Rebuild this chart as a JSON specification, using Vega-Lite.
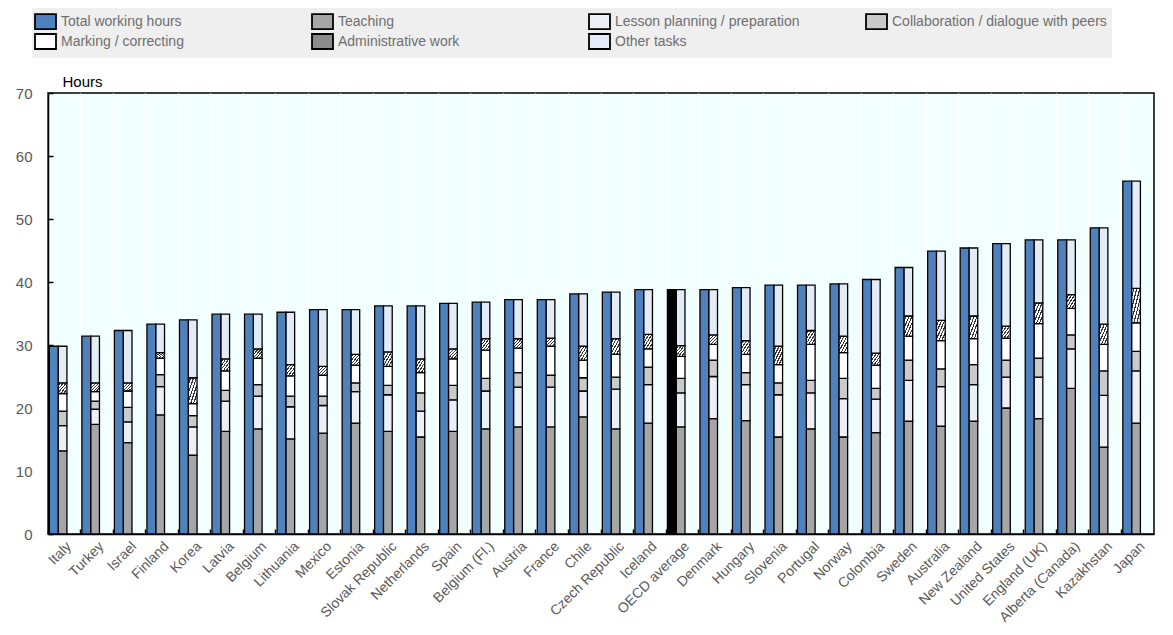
{
  "$schema": "https://vega.github.io/schema/vega-lite/v6.json",
  "autosize": "none",
  "width": 1106,
  "height": 441,
  "padding": {"left": 48, "top": 93, "right": 19, "bottom": 101},
  "background": "white",
  "config": {
    "font": "Liberation Sans",
    "view": {"fill": "#F2FFFF", "stroke": "black", "strokeWidth": 1.5},
    "legend": {
      "orient": "none", "legendX": -16, "legendY": -85, "columns": 4, "direction": "horizontal", "gridAlign": "all",
      "columnPadding": 32, "rowPadding": -3, "fillColor": "#EFEFEF", "padding": 5,
      "symbolType": "M-1.4,-1H1.4V1H-1.4Z", "symbolSize": 225,
      "symbolStrokeColor": "black", "symbolStrokeWidth": 1.8,
      "labelFontSize": 14, "labelColor": "#6E6E6E", "labelFont": "Liberation Sans",
      "labelOffset": 7, "labelLimit": 400
    }
  },
  "data": {"values": [
    {"country":"Italy","series":"Total","task":"Total working hours","hours":29.8},
    {"country":"Turkey","series":"Total","task":"Total working hours","hours":31.4},
    {"country":"Israel","series":"Total","task":"Total working hours","hours":32.3},
    {"country":"Finland","series":"Total","task":"Total working hours","hours":33.3},
    {"country":"Korea","series":"Total","task":"Total working hours","hours":34.0},
    {"country":"Latvia","series":"Total","task":"Total working hours","hours":34.9},
    {"country":"Belgium","series":"Total","task":"Total working hours","hours":34.9},
    {"country":"Lithuania","series":"Total","task":"Total working hours","hours":35.2},
    {"country":"Mexico","series":"Total","task":"Total working hours","hours":35.6},
    {"country":"Estonia","series":"Total","task":"Total working hours","hours":35.6},
    {"country":"Slovak Republic","series":"Total","task":"Total working hours","hours":36.2},
    {"country":"Netherlands","series":"Total","task":"Total working hours","hours":36.2},
    {"country":"Spain","series":"Total","task":"Total working hours","hours":36.6},
    {"country":"Belgium (Fl.)","series":"Total","task":"Total working hours","hours":36.8},
    {"country":"Austria","series":"Total","task":"Total working hours","hours":37.2},
    {"country":"France","series":"Total","task":"Total working hours","hours":37.2},
    {"country":"Chile","series":"Total","task":"Total working hours","hours":38.1},
    {"country":"Czech Republic","series":"Total","task":"Total working hours","hours":38.4},
    {"country":"Iceland","series":"Total","task":"Total working hours","hours":38.8},
    {"country":"OECD average","series":"Total","task":"Total working hours","hours":38.8},
    {"country":"Denmark","series":"Total","task":"Total working hours","hours":38.8},
    {"country":"Hungary","series":"Total","task":"Total working hours","hours":39.1},
    {"country":"Slovenia","series":"Total","task":"Total working hours","hours":39.5},
    {"country":"Portugal","series":"Total","task":"Total working hours","hours":39.5},
    {"country":"Norway","series":"Total","task":"Total working hours","hours":39.7},
    {"country":"Colombia","series":"Total","task":"Total working hours","hours":40.4},
    {"country":"Sweden","series":"Total","task":"Total working hours","hours":42.3},
    {"country":"Australia","series":"Total","task":"Total working hours","hours":44.9},
    {"country":"New Zealand","series":"Total","task":"Total working hours","hours":45.4},
    {"country":"United States","series":"Total","task":"Total working hours","hours":46.1},
    {"country":"England (UK)","series":"Total","task":"Total working hours","hours":46.7},
    {"country":"Alberta (Canada)","series":"Total","task":"Total working hours","hours":46.7},
    {"country":"Kazakhstan","series":"Total","task":"Total working hours","hours":48.6},
    {"country":"Japan","series":"Total","task":"Total working hours","hours":56.0},

    {"country":"Italy","series":"Breakdown","task":"Teaching","hours":13.2},
    {"country":"Italy","series":"Breakdown","task":"Lesson planning / preparation","hours":4.0},
    {"country":"Italy","series":"Breakdown","task":"Collaboration / dialogue with peers","hours":2.3},
    {"country":"Italy","series":"Breakdown","task":"Marking / correcting","hours":2.8},
    {"country":"Italy","series":"Breakdown","task":"Administrative work","hours":1.7},
    {"country":"Italy","series":"Breakdown","task":"Other tasks","hours":5.8},
    {"country":"Turkey","series":"Breakdown","task":"Teaching","hours":17.4},
    {"country":"Turkey","series":"Breakdown","task":"Lesson planning / preparation","hours":2.4},
    {"country":"Turkey","series":"Breakdown","task":"Collaboration / dialogue with peers","hours":1.3},
    {"country":"Turkey","series":"Breakdown","task":"Marking / correcting","hours":1.5},
    {"country":"Turkey","series":"Breakdown","task":"Administrative work","hours":1.4},
    {"country":"Turkey","series":"Breakdown","task":"Other tasks","hours":7.4},
    {"country":"Israel","series":"Breakdown","task":"Teaching","hours":14.5},
    {"country":"Israel","series":"Breakdown","task":"Lesson planning / preparation","hours":3.3},
    {"country":"Israel","series":"Breakdown","task":"Collaboration / dialogue with peers","hours":2.3},
    {"country":"Israel","series":"Breakdown","task":"Marking / correcting","hours":2.6},
    {"country":"Israel","series":"Breakdown","task":"Administrative work","hours":1.3},
    {"country":"Israel","series":"Breakdown","task":"Other tasks","hours":8.3},
    {"country":"Finland","series":"Breakdown","task":"Teaching","hours":18.9},
    {"country":"Finland","series":"Breakdown","task":"Lesson planning / preparation","hours":4.5},
    {"country":"Finland","series":"Breakdown","task":"Collaboration / dialogue with peers","hours":1.9},
    {"country":"Finland","series":"Breakdown","task":"Marking / correcting","hours":2.6},
    {"country":"Finland","series":"Breakdown","task":"Administrative work","hours":0.9},
    {"country":"Finland","series":"Breakdown","task":"Other tasks","hours":4.5},
    {"country":"Korea","series":"Breakdown","task":"Teaching","hours":12.5},
    {"country":"Korea","series":"Breakdown","task":"Lesson planning / preparation","hours":4.5},
    {"country":"Korea","series":"Breakdown","task":"Collaboration / dialogue with peers","hours":1.8},
    {"country":"Korea","series":"Breakdown","task":"Marking / correcting","hours":1.9},
    {"country":"Korea","series":"Breakdown","task":"Administrative work","hours":4.1},
    {"country":"Korea","series":"Breakdown","task":"Other tasks","hours":9.2},
    {"country":"Latvia","series":"Breakdown","task":"Teaching","hours":16.3},
    {"country":"Latvia","series":"Breakdown","task":"Lesson planning / preparation","hours":4.8},
    {"country":"Latvia","series":"Breakdown","task":"Collaboration / dialogue with peers","hours":1.7},
    {"country":"Latvia","series":"Breakdown","task":"Marking / correcting","hours":3.1},
    {"country":"Latvia","series":"Breakdown","task":"Administrative work","hours":1.9},
    {"country":"Latvia","series":"Breakdown","task":"Other tasks","hours":7.1},
    {"country":"Belgium","series":"Breakdown","task":"Teaching","hours":16.7},
    {"country":"Belgium","series":"Breakdown","task":"Lesson planning / preparation","hours":5.2},
    {"country":"Belgium","series":"Breakdown","task":"Collaboration / dialogue with peers","hours":1.8},
    {"country":"Belgium","series":"Breakdown","task":"Marking / correcting","hours":4.2},
    {"country":"Belgium","series":"Breakdown","task":"Administrative work","hours":1.5},
    {"country":"Belgium","series":"Breakdown","task":"Other tasks","hours":5.5},
    {"country":"Lithuania","series":"Breakdown","task":"Teaching","hours":15.1},
    {"country":"Lithuania","series":"Breakdown","task":"Lesson planning / preparation","hours":5.1},
    {"country":"Lithuania","series":"Breakdown","task":"Collaboration / dialogue with peers","hours":1.7},
    {"country":"Lithuania","series":"Breakdown","task":"Marking / correcting","hours":3.2},
    {"country":"Lithuania","series":"Breakdown","task":"Administrative work","hours":1.8},
    {"country":"Lithuania","series":"Breakdown","task":"Other tasks","hours":8.3},
    {"country":"Mexico","series":"Breakdown","task":"Teaching","hours":16.0},
    {"country":"Mexico","series":"Breakdown","task":"Lesson planning / preparation","hours":4.4},
    {"country":"Mexico","series":"Breakdown","task":"Collaboration / dialogue with peers","hours":1.5},
    {"country":"Mexico","series":"Breakdown","task":"Marking / correcting","hours":3.3},
    {"country":"Mexico","series":"Breakdown","task":"Administrative work","hours":1.4},
    {"country":"Mexico","series":"Breakdown","task":"Other tasks","hours":9.0},
    {"country":"Estonia","series":"Breakdown","task":"Teaching","hours":17.6},
    {"country":"Estonia","series":"Breakdown","task":"Lesson planning / preparation","hours":5.0},
    {"country":"Estonia","series":"Breakdown","task":"Collaboration / dialogue with peers","hours":1.4},
    {"country":"Estonia","series":"Breakdown","task":"Marking / correcting","hours":2.8},
    {"country":"Estonia","series":"Breakdown","task":"Administrative work","hours":1.7},
    {"country":"Estonia","series":"Breakdown","task":"Other tasks","hours":7.1},
    {"country":"Slovak Republic","series":"Breakdown","task":"Teaching","hours":16.3},
    {"country":"Slovak Republic","series":"Breakdown","task":"Lesson planning / preparation","hours":5.8},
    {"country":"Slovak Republic","series":"Breakdown","task":"Collaboration / dialogue with peers","hours":1.5},
    {"country":"Slovak Republic","series":"Breakdown","task":"Marking / correcting","hours":3.0},
    {"country":"Slovak Republic","series":"Breakdown","task":"Administrative work","hours":2.3},
    {"country":"Slovak Republic","series":"Breakdown","task":"Other tasks","hours":7.3},
    {"country":"Netherlands","series":"Breakdown","task":"Teaching","hours":15.4},
    {"country":"Netherlands","series":"Breakdown","task":"Lesson planning / preparation","hours":4.1},
    {"country":"Netherlands","series":"Breakdown","task":"Collaboration / dialogue with peers","hours":2.9},
    {"country":"Netherlands","series":"Breakdown","task":"Marking / correcting","hours":3.2},
    {"country":"Netherlands","series":"Breakdown","task":"Administrative work","hours":2.2},
    {"country":"Netherlands","series":"Breakdown","task":"Other tasks","hours":8.4},
    {"country":"Spain","series":"Breakdown","task":"Teaching","hours":16.3},
    {"country":"Spain","series":"Breakdown","task":"Lesson planning / preparation","hours":5.0},
    {"country":"Spain","series":"Breakdown","task":"Collaboration / dialogue with peers","hours":2.3},
    {"country":"Spain","series":"Breakdown","task":"Marking / correcting","hours":4.2},
    {"country":"Spain","series":"Breakdown","task":"Administrative work","hours":1.6},
    {"country":"Spain","series":"Breakdown","task":"Other tasks","hours":7.2},
    {"country":"Belgium (Fl.)","series":"Breakdown","task":"Teaching","hours":16.7},
    {"country":"Belgium (Fl.)","series":"Breakdown","task":"Lesson planning / preparation","hours":6.0},
    {"country":"Belgium (Fl.)","series":"Breakdown","task":"Collaboration / dialogue with peers","hours":2.0},
    {"country":"Belgium (Fl.)","series":"Breakdown","task":"Marking / correcting","hours":4.5},
    {"country":"Belgium (Fl.)","series":"Breakdown","task":"Administrative work","hours":1.8},
    {"country":"Belgium (Fl.)","series":"Breakdown","task":"Other tasks","hours":5.8},
    {"country":"Austria","series":"Breakdown","task":"Teaching","hours":17.0},
    {"country":"Austria","series":"Breakdown","task":"Lesson planning / preparation","hours":6.3},
    {"country":"Austria","series":"Breakdown","task":"Collaboration / dialogue with peers","hours":2.3},
    {"country":"Austria","series":"Breakdown","task":"Marking / correcting","hours":3.9},
    {"country":"Austria","series":"Breakdown","task":"Administrative work","hours":1.5},
    {"country":"Austria","series":"Breakdown","task":"Other tasks","hours":6.2},
    {"country":"France","series":"Breakdown","task":"Teaching","hours":17.0},
    {"country":"France","series":"Breakdown","task":"Lesson planning / preparation","hours":6.3},
    {"country":"France","series":"Breakdown","task":"Collaboration / dialogue with peers","hours":1.9},
    {"country":"France","series":"Breakdown","task":"Marking / correcting","hours":4.6},
    {"country":"France","series":"Breakdown","task":"Administrative work","hours":1.3},
    {"country":"France","series":"Breakdown","task":"Other tasks","hours":6.1},
    {"country":"Chile","series":"Breakdown","task":"Teaching","hours":18.6},
    {"country":"Chile","series":"Breakdown","task":"Lesson planning / preparation","hours":4.1},
    {"country":"Chile","series":"Breakdown","task":"Collaboration / dialogue with peers","hours":2.1},
    {"country":"Chile","series":"Breakdown","task":"Marking / correcting","hours":2.8},
    {"country":"Chile","series":"Breakdown","task":"Administrative work","hours":2.2},
    {"country":"Chile","series":"Breakdown","task":"Other tasks","hours":8.3},
    {"country":"Czech Republic","series":"Breakdown","task":"Teaching","hours":16.7},
    {"country":"Czech Republic","series":"Breakdown","task":"Lesson planning / preparation","hours":6.3},
    {"country":"Czech Republic","series":"Breakdown","task":"Collaboration / dialogue with peers","hours":1.9},
    {"country":"Czech Republic","series":"Breakdown","task":"Marking / correcting","hours":3.6},
    {"country":"Czech Republic","series":"Breakdown","task":"Administrative work","hours":2.5},
    {"country":"Czech Republic","series":"Breakdown","task":"Other tasks","hours":7.4},
    {"country":"Iceland","series":"Breakdown","task":"Teaching","hours":17.6},
    {"country":"Iceland","series":"Breakdown","task":"Lesson planning / preparation","hours":6.1},
    {"country":"Iceland","series":"Breakdown","task":"Collaboration / dialogue with peers","hours":2.8},
    {"country":"Iceland","series":"Breakdown","task":"Marking / correcting","hours":2.9},
    {"country":"Iceland","series":"Breakdown","task":"Administrative work","hours":2.3},
    {"country":"Iceland","series":"Breakdown","task":"Other tasks","hours":7.1},
    {"country":"OECD average","series":"Breakdown","task":"Teaching","hours":17.0},
    {"country":"OECD average","series":"Breakdown","task":"Lesson planning / preparation","hours":5.4},
    {"country":"OECD average","series":"Breakdown","task":"Collaboration / dialogue with peers","hours":2.3},
    {"country":"OECD average","series":"Breakdown","task":"Marking / correcting","hours":3.5},
    {"country":"OECD average","series":"Breakdown","task":"Administrative work","hours":1.7},
    {"country":"OECD average","series":"Breakdown","task":"Other tasks","hours":8.9},
    {"country":"Denmark","series":"Breakdown","task":"Teaching","hours":18.3},
    {"country":"Denmark","series":"Breakdown","task":"Lesson planning / preparation","hours":6.7},
    {"country":"Denmark","series":"Breakdown","task":"Collaboration / dialogue with peers","hours":2.6},
    {"country":"Denmark","series":"Breakdown","task":"Marking / correcting","hours":2.5},
    {"country":"Denmark","series":"Breakdown","task":"Administrative work","hours":1.5},
    {"country":"Denmark","series":"Breakdown","task":"Other tasks","hours":7.2},
    {"country":"Hungary","series":"Breakdown","task":"Teaching","hours":18.0},
    {"country":"Hungary","series":"Breakdown","task":"Lesson planning / preparation","hours":5.7},
    {"country":"Hungary","series":"Breakdown","task":"Collaboration / dialogue with peers","hours":1.9},
    {"country":"Hungary","series":"Breakdown","task":"Marking / correcting","hours":2.9},
    {"country":"Hungary","series":"Breakdown","task":"Administrative work","hours":2.2},
    {"country":"Hungary","series":"Breakdown","task":"Other tasks","hours":8.4},
    {"country":"Slovenia","series":"Breakdown","task":"Teaching","hours":15.4},
    {"country":"Slovenia","series":"Breakdown","task":"Lesson planning / preparation","hours":6.7},
    {"country":"Slovenia","series":"Breakdown","task":"Collaboration / dialogue with peers","hours":1.9},
    {"country":"Slovenia","series":"Breakdown","task":"Marking / correcting","hours":2.9},
    {"country":"Slovenia","series":"Breakdown","task":"Administrative work","hours":2.9},
    {"country":"Slovenia","series":"Breakdown","task":"Other tasks","hours":9.7},
    {"country":"Portugal","series":"Breakdown","task":"Teaching","hours":16.7},
    {"country":"Portugal","series":"Breakdown","task":"Lesson planning / preparation","hours":5.7},
    {"country":"Portugal","series":"Breakdown","task":"Collaboration / dialogue with peers","hours":2.0},
    {"country":"Portugal","series":"Breakdown","task":"Marking / correcting","hours":5.7},
    {"country":"Portugal","series":"Breakdown","task":"Administrative work","hours":2.2},
    {"country":"Portugal","series":"Breakdown","task":"Other tasks","hours":7.2},
    {"country":"Norway","series":"Breakdown","task":"Teaching","hours":15.4},
    {"country":"Norway","series":"Breakdown","task":"Lesson planning / preparation","hours":6.1},
    {"country":"Norway","series":"Breakdown","task":"Collaboration / dialogue with peers","hours":3.2},
    {"country":"Norway","series":"Breakdown","task":"Marking / correcting","hours":4.1},
    {"country":"Norway","series":"Breakdown","task":"Administrative work","hours":2.6},
    {"country":"Norway","series":"Breakdown","task":"Other tasks","hours":8.3},
    {"country":"Colombia","series":"Breakdown","task":"Teaching","hours":16.1},
    {"country":"Colombia","series":"Breakdown","task":"Lesson planning / preparation","hours":5.3},
    {"country":"Colombia","series":"Breakdown","task":"Collaboration / dialogue with peers","hours":1.7},
    {"country":"Colombia","series":"Breakdown","task":"Marking / correcting","hours":3.7},
    {"country":"Colombia","series":"Breakdown","task":"Administrative work","hours":1.9},
    {"country":"Colombia","series":"Breakdown","task":"Other tasks","hours":11.7},
    {"country":"Sweden","series":"Breakdown","task":"Teaching","hours":17.9},
    {"country":"Sweden","series":"Breakdown","task":"Lesson planning / preparation","hours":6.5},
    {"country":"Sweden","series":"Breakdown","task":"Collaboration / dialogue with peers","hours":3.2},
    {"country":"Sweden","series":"Breakdown","task":"Marking / correcting","hours":3.8},
    {"country":"Sweden","series":"Breakdown","task":"Administrative work","hours":3.2},
    {"country":"Sweden","series":"Breakdown","task":"Other tasks","hours":7.7},
    {"country":"Australia","series":"Breakdown","task":"Teaching","hours":17.1},
    {"country":"Australia","series":"Breakdown","task":"Lesson planning / preparation","hours":6.3},
    {"country":"Australia","series":"Breakdown","task":"Collaboration / dialogue with peers","hours":2.8},
    {"country":"Australia","series":"Breakdown","task":"Marking / correcting","hours":4.5},
    {"country":"Australia","series":"Breakdown","task":"Administrative work","hours":3.2},
    {"country":"Australia","series":"Breakdown","task":"Other tasks","hours":11.0},
    {"country":"New Zealand","series":"Breakdown","task":"Teaching","hours":17.9},
    {"country":"New Zealand","series":"Breakdown","task":"Lesson planning / preparation","hours":5.8},
    {"country":"New Zealand","series":"Breakdown","task":"Collaboration / dialogue with peers","hours":3.2},
    {"country":"New Zealand","series":"Breakdown","task":"Marking / correcting","hours":4.1},
    {"country":"New Zealand","series":"Breakdown","task":"Administrative work","hours":3.6},
    {"country":"New Zealand","series":"Breakdown","task":"Other tasks","hours":10.8},
    {"country":"United States","series":"Breakdown","task":"Teaching","hours":20.0},
    {"country":"United States","series":"Breakdown","task":"Lesson planning / preparation","hours":4.9},
    {"country":"United States","series":"Breakdown","task":"Collaboration / dialogue with peers","hours":2.7},
    {"country":"United States","series":"Breakdown","task":"Marking / correcting","hours":3.5},
    {"country":"United States","series":"Breakdown","task":"Administrative work","hours":1.9},
    {"country":"United States","series":"Breakdown","task":"Other tasks","hours":13.1},
    {"country":"England (UK)","series":"Breakdown","task":"Teaching","hours":18.3},
    {"country":"England (UK)","series":"Breakdown","task":"Lesson planning / preparation","hours":6.6},
    {"country":"England (UK)","series":"Breakdown","task":"Collaboration / dialogue with peers","hours":3.0},
    {"country":"England (UK)","series":"Breakdown","task":"Marking / correcting","hours":5.5},
    {"country":"England (UK)","series":"Breakdown","task":"Administrative work","hours":3.3},
    {"country":"England (UK)","series":"Breakdown","task":"Other tasks","hours":10.0},
    {"country":"Alberta (Canada)","series":"Breakdown","task":"Teaching","hours":23.1},
    {"country":"Alberta (Canada)","series":"Breakdown","task":"Lesson planning / preparation","hours":6.3},
    {"country":"Alberta (Canada)","series":"Breakdown","task":"Collaboration / dialogue with peers","hours":2.2},
    {"country":"Alberta (Canada)","series":"Breakdown","task":"Marking / correcting","hours":4.2},
    {"country":"Alberta (Canada)","series":"Breakdown","task":"Administrative work","hours":2.2},
    {"country":"Alberta (Canada)","series":"Breakdown","task":"Other tasks","hours":8.7},
    {"country":"Kazakhstan","series":"Breakdown","task":"Teaching","hours":13.8},
    {"country":"Kazakhstan","series":"Breakdown","task":"Lesson planning / preparation","hours":8.2},
    {"country":"Kazakhstan","series":"Breakdown","task":"Collaboration / dialogue with peers","hours":3.9},
    {"country":"Kazakhstan","series":"Breakdown","task":"Marking / correcting","hours":4.2},
    {"country":"Kazakhstan","series":"Breakdown","task":"Administrative work","hours":3.2},
    {"country":"Kazakhstan","series":"Breakdown","task":"Other tasks","hours":15.3},
    {"country":"Japan","series":"Breakdown","task":"Teaching","hours":17.6},
    {"country":"Japan","series":"Breakdown","task":"Lesson planning / preparation","hours":8.3},
    {"country":"Japan","series":"Breakdown","task":"Collaboration / dialogue with peers","hours":3.1},
    {"country":"Japan","series":"Breakdown","task":"Marking / correcting","hours":4.5},
    {"country":"Japan","series":"Breakdown","task":"Administrative work","hours":5.5},
    {"country":"Japan","series":"Breakdown","task":"Other tasks","hours":17.0}
  ]},
  "resolve": {"axis": {"x": "independent"}},
  "layer": [
    {
      "transform": [
        {"filter": "datum.series === 'Breakdown'"},
        {"calculate": "indexof(['Teaching','Lesson planning / preparation','Collaboration / dialogue with peers','Marking / correcting','Administrative work','Other tasks'], datum.task)", "as": "stackOrder"}
      ],
      "mark": {"type": "bar", "stroke": "black", "strokeWidth": 1.3},
      "encoding": {
        "x": {"field": "country", "type": "nominal", "sort": null,
              "scale": {"paddingInner": 0, "paddingOuter": 0},
              "axis": {"orient": "bottom", "title": null, "labels": false, "bandPosition": 0, "ticks": true, "tickSize": -5, "tickColor": "black", "tickWidth": 1.5,
                       "grid": true, "gridColor": "#FFFFFF", "gridWidth": 1.5, "domain": false}},
        "xOffset": {"field": "series", "type": "nominal",
                    "scale": {"domain": ["Total", "Breakdown"], "paddingInner": 0, "paddingOuter": 0.85, "align": 0.09}},
        "y": {"field": "hours", "type": "quantitative", "stack": "zero",
              "scale": {"domain": [0, 70], "nice": false},
              "axis": {"title": "Hours", "titleAngle": 0, "titleAlign": "left", "titleBaseline": "alphabetic", "titleX": 14, "titleY": -7,
                       "titleFontSize": 15, "titleFontWeight": "normal", "titleColor": "black",
                       "values": [0, 10, 20, 30, 40, 50, 60, 70], "grid": false, "tickSize": -5, "tickColor": "black", "tickWidth": 1.5,
                       "labelPadding": 21, "labelFontSize": 15, "labelColor": "#595959", "domainColor": "black", "domainWidth": 1.5}},
        "order": {"field": "stackOrder", "type": "quantitative", "sort": "ascending"},
        "color": {"field": "task", "type": "nominal", "title": null,
                  "condition": {"test": "datum.task === 'Administrative work'",
                                "value": {"gradient": "linear", "x1": 0, "y1": 0, "x2": 1, "y2": 1,
                                          "stops": [
                                            {"offset": 0, "color": "#FFFFFF"}, {"offset": 0.1, "color": "#FFFFFF"}, {"offset": 0.1, "color": "#333333"}, {"offset": 0.1667, "color": "#333333"},
                                            {"offset": 0.1667, "color": "#FFFFFF"}, {"offset": 0.2667, "color": "#FFFFFF"}, {"offset": 0.2667, "color": "#333333"}, {"offset": 0.3333, "color": "#333333"},
                                            {"offset": 0.3333, "color": "#FFFFFF"}, {"offset": 0.4333, "color": "#FFFFFF"}, {"offset": 0.4333, "color": "#333333"}, {"offset": 0.5, "color": "#333333"},
                                            {"offset": 0.5, "color": "#FFFFFF"}, {"offset": 0.6, "color": "#FFFFFF"}, {"offset": 0.6, "color": "#333333"}, {"offset": 0.6667, "color": "#333333"},
                                            {"offset": 0.6667, "color": "#FFFFFF"}, {"offset": 0.7667, "color": "#FFFFFF"}, {"offset": 0.7667, "color": "#333333"}, {"offset": 0.8333, "color": "#333333"},
                                            {"offset": 0.8333, "color": "#FFFFFF"}, {"offset": 0.9333, "color": "#FFFFFF"}, {"offset": 0.9333, "color": "#333333"}, {"offset": 1, "color": "#333333"}
                                          ]}},
                  "scale": {"domain": ["Total working hours", "Teaching", "Lesson planning / preparation", "Collaboration / dialogue with peers", "Marking / correcting", "Administrative work", "Other tasks"],
                            "range": ["#4F81BD", "#A6A6A6", "#EDEFF7", "#CACACA", "#FFFFFF", "#8C8C8C", "#E2EBF6"]}}
      }
    },
    {
      "transform": [{"filter": "datum.series === 'Total'"}],
      "mark": {"type": "bar", "stroke": "black", "strokeWidth": 1.3},
      "encoding": {
        "x": {"field": "country", "type": "nominal", "sort": null,
              "axis": {"orient": "bottom", "title": null, "labelAngle": -45, "labelFontSize": 14, "labelColor": "#595959", "ticks": false, "domainColor": "black", "domainWidth": 1.5, "labelPadding": 5}},
        "xOffset": {"field": "series", "type": "nominal"},
        "y": {"field": "hours", "type": "quantitative"},
        "color": {"condition": {"test": "datum.country === 'OECD average'", "value": "#000000"}, "field": "task", "type": "nominal"}
      }
    }
  ]
}
